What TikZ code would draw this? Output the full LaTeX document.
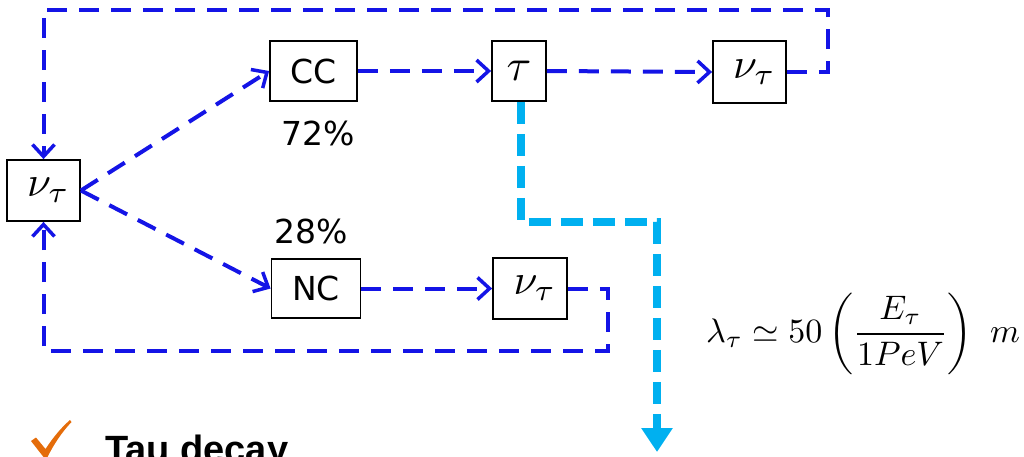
\documentclass[tikz,border=0pt]{standalone}
\usepackage{graphicx}
\usepackage{fontspec}
\newfontfamily\boxfont{DejaVu Sans}
\newfontfamily\headfont{Liberation Sans}
\usetikzlibrary{arrows.meta}
\definecolor{loopblue}{RGB}{20,20,230}
\definecolor{decaycyan}{RGB}{0,176,240}
\definecolor{tickorange}{RGB}{228,108,10}
\newcommand{\bigmath}[2]{\scalebox{#1}{$#2$}}
\newcommand{\nutau}{\hspace*{10pt}\bigmath{4.3}{\nu_\tau}}
\tikzset{
  box/.style={draw=black, line width=1.8pt, fill=white, inner sep=0pt},
  flow/.style={draw=loopblue, line width=4pt, dash pattern=on 20pt off 12pt,
    -{Straight Barb[length=12pt,width=22pt,line width=3.5pt]}},
  decay/.style={draw=decaycyan, line width=8pt, dash pattern=on 22pt off 10pt,
    -{Triangle[length=24pt,width=30pt]}},
  pct/.style={font=\boxfont\fontsize{33}{38}\selectfont},
}
\begin{document}
\begin{tikzpicture}[x=1pt,y=-1pt]
\useasboundingbox (0,0) rectangle (1024,456);
\clip (0,0) rectangle (1024,456);

% particle boxes
\node[box, minimum width=73pt, minimum height=61pt] (L) at (43.5,190.5) {\nutau};
\node[box, minimum width=87pt, minimum height=60pt, pct] (CC) at (313.5,71) {CC};
\node[box, minimum width=54pt, minimum height=60pt] (tau) at (519,71) {\bigmath{4.5}{\tau}};
\node[box, minimum width=73pt, minimum height=62pt] (nt1) at (749.5,72) {\nutau};
\node[box, minimum width=89pt, minimum height=59pt, pct] (NC) at (316,288.5) {NC};
\node[box, minimum width=74pt, minimum height=61pt] (nt2) at (530,288.5) {\nutau};

% branching ratios
\node[pct] (r72) at (318,133) {72\%};
\node[pct] (r28) at (311,231) {28\%};

% loop corners
\coordinate (tr) at (828,10);
\coordinate (br) at (608,351);
\coordinate (c1) at (657,222);
\coordinate (ce) at (657,452);

% interaction chain
\draw[flow] (L.east) -- (CC.west);
\draw[flow] (L.east) -- (NC.west);
\draw[flow] (CC.east) -- (tau.west);
\draw[flow] (tau.east) -- (nt1.west);
\draw[flow] (NC.east) -- (nt2.west);
\draw[flow] (nt1.east) -| (tr) -| (L.north);
\draw[flow] (nt2.east) -| (br) -| (L.south);

% tau decay path
\draw[decay] ([xshift=2pt]tau.south) |- (c1) -- (ce);

% decay length
\node[anchor=west, inner sep=0pt] (len) at (706,334)
  {\bigmath{3.4}{\displaystyle \lambda_\tau \simeq 50\left(\frac{E_\tau}{1PeV}\right)\ m}};

% bullet
\fill[tickorange] (31,441) -- (36,437.5) -- (45.5,449) .. controls (54,436) and (62,427) .. (70,420)
  -- (71.5,422) .. controls (62,432) and (54,444) .. (47.5,457) -- (43.5,457) -- cycle;
\node[anchor=base west, inner sep=0pt, font=\headfont\bfseries\fontsize{38}{44}\selectfont] (head) at (105,462) {Tau decay};
\end{tikzpicture}
\end{document}
